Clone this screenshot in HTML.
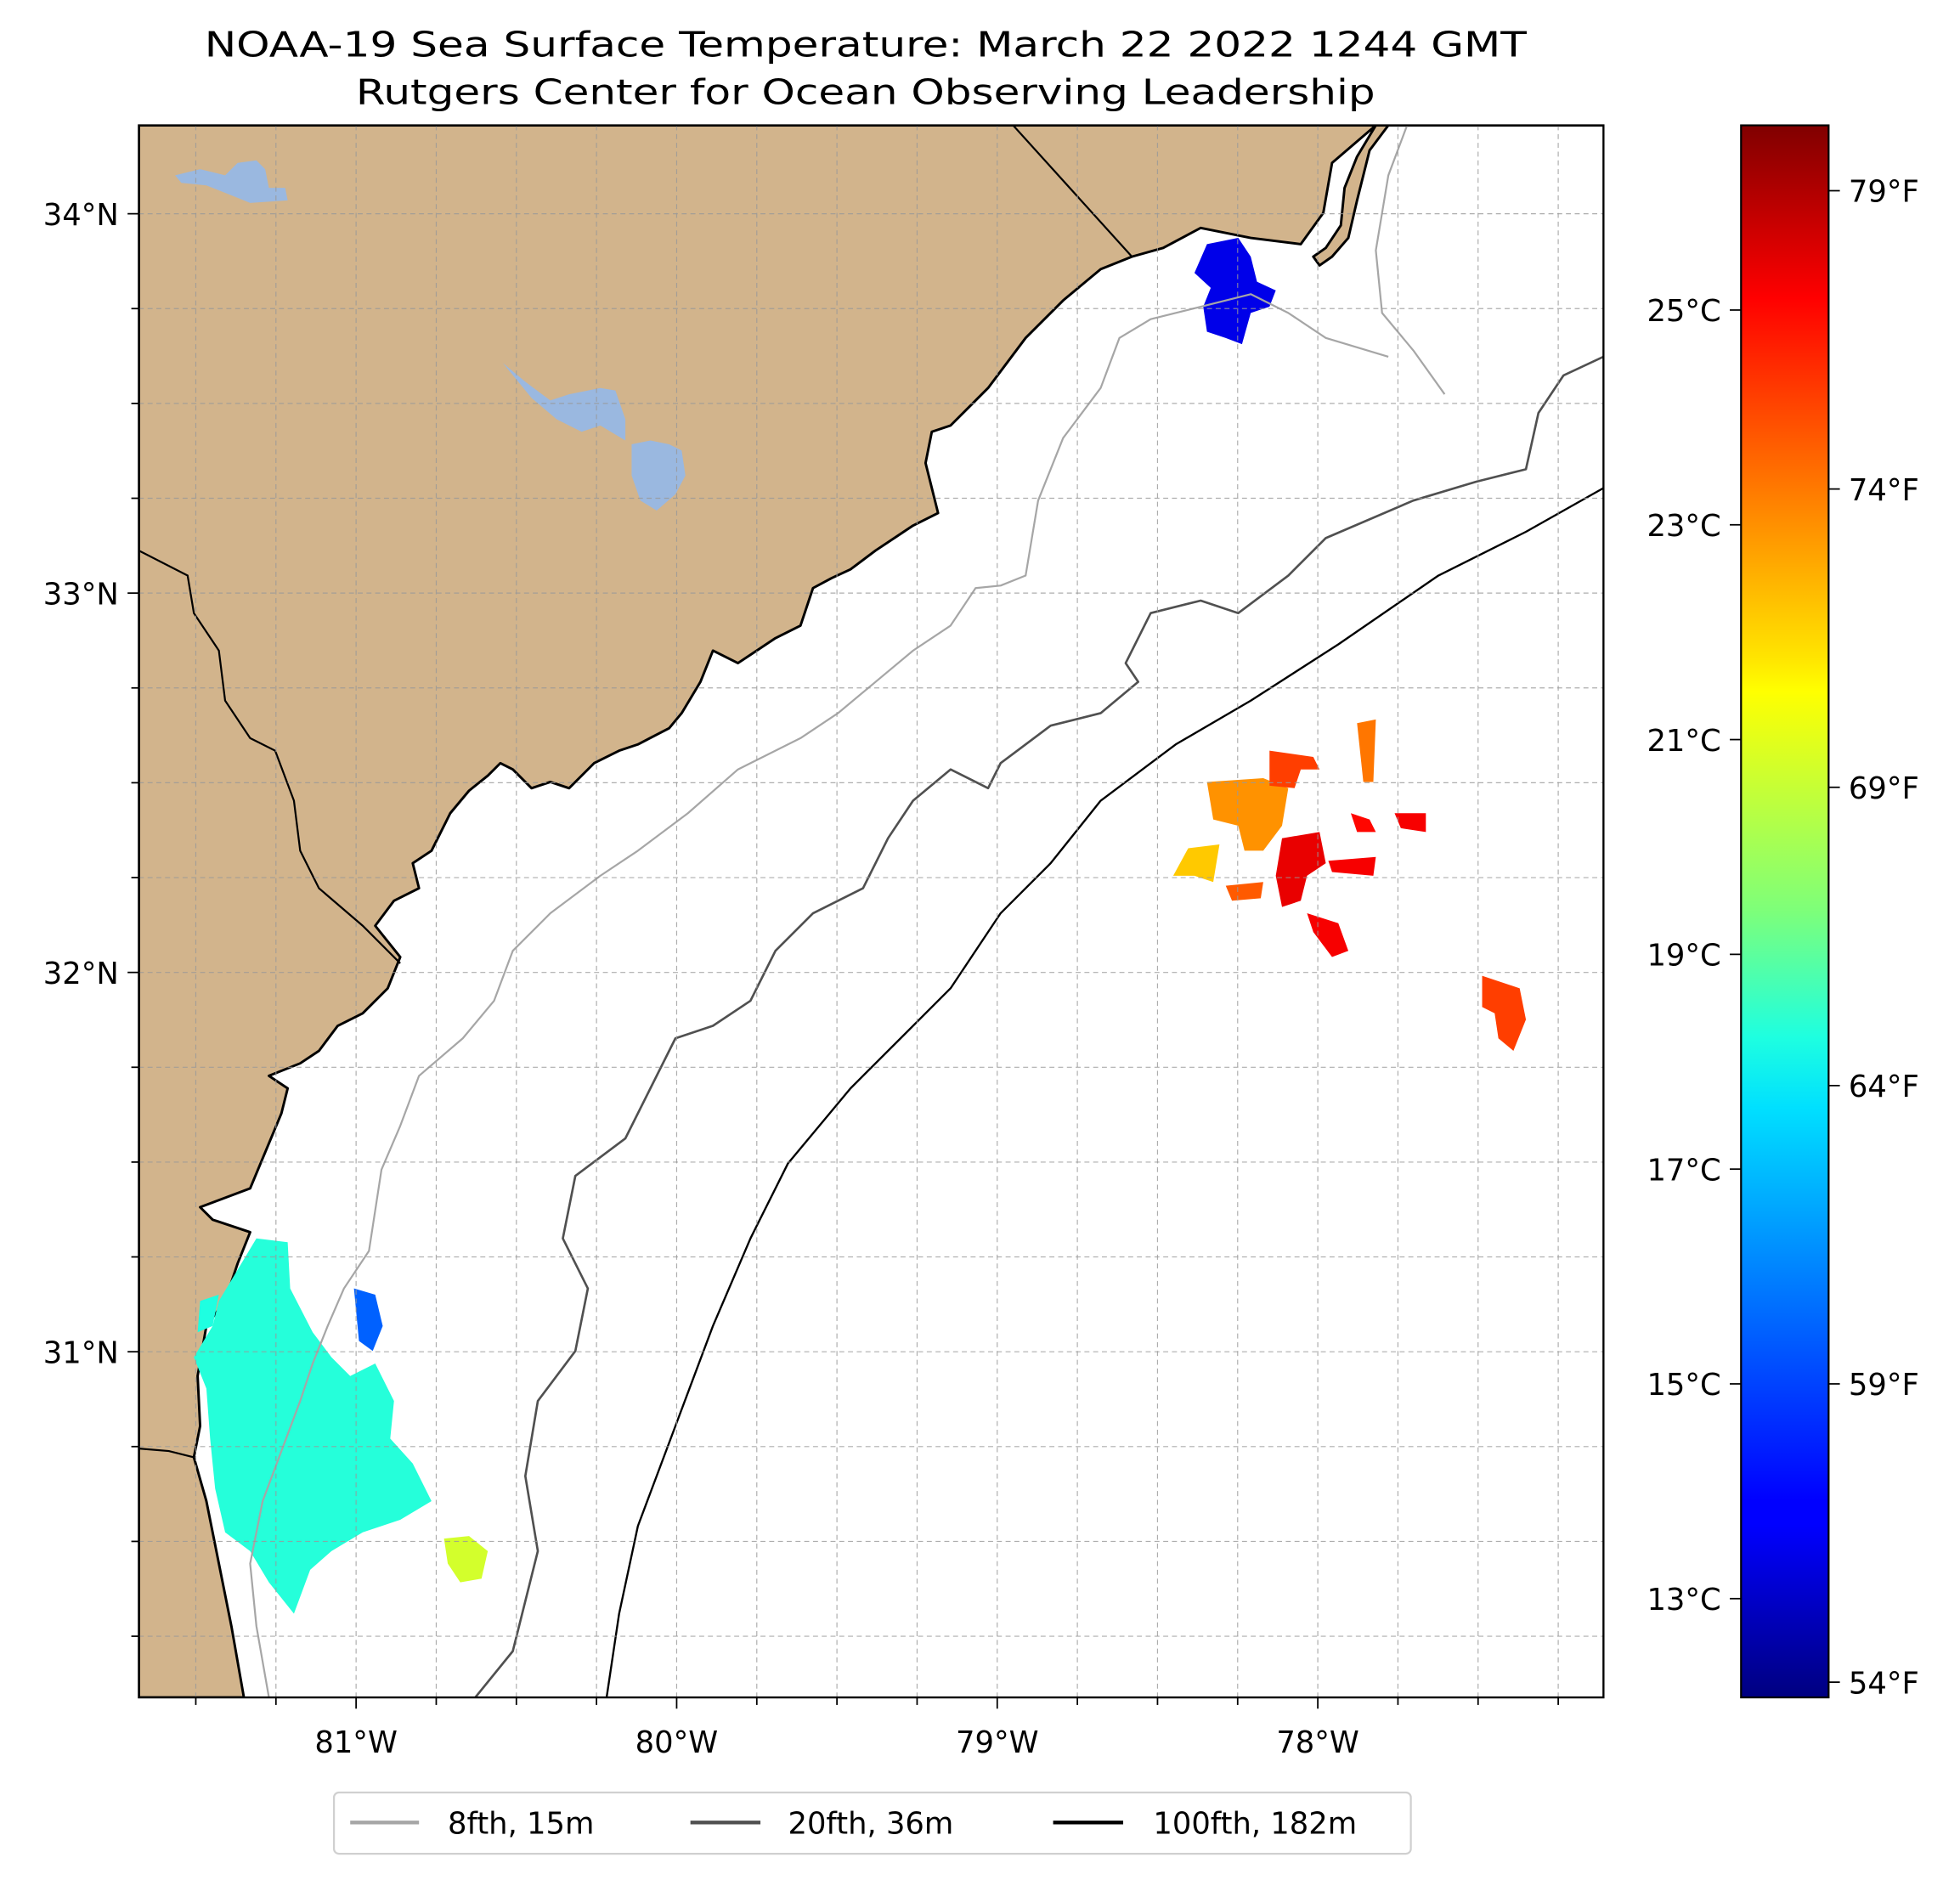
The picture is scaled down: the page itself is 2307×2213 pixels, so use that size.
<!DOCTYPE html>
<html><head><meta charset="utf-8">
<style>
html,body{margin:0;padding:0;background:#fff;}
svg{display:block;font-family:"DejaVu Sans","Liberation Sans",sans-serif;}
</style></head>
<body>
<svg id="chart" width="2307" height="2213" viewBox="0 0 1560 1496" xmlns="http://www.w3.org/2000/svg">
<defs>
<linearGradient id="jet" x1="0" y1="1" x2="0" y2="0">
<stop offset="0" stop-color="#000080"/><stop offset="0.11" stop-color="#0000ff"/><stop offset="0.125" stop-color="#0000ff"/>
<stop offset="0.375" stop-color="#00e0ff"/><stop offset="0.42" stop-color="#1effe0"/><stop offset="0.5" stop-color="#7dff7a"/>
<stop offset="0.64" stop-color="#ffff00"/><stop offset="0.66" stop-color="#ffe600"/><stop offset="0.89" stop-color="#ff0000"/>
<stop offset="1" stop-color="#800000"/></linearGradient>
<clipPath id="plotclip"><rect x="111" y="100" width="1171" height="1257"/></clipPath>
</defs>
<g transform="scale(0.9955)">
<text x="692" y="45" font-size="28" text-anchor="middle" textLength="1057" lengthAdjust="spacingAndGlyphs">NOAA-19 Sea Surface Temperature: March 22 2022 1244 GMT</text>
<text x="692" y="83" font-size="28" text-anchor="middle" textLength="815" lengthAdjust="spacingAndGlyphs">Rutgers Center for Ocean Observing Leadership</text>
<g id="map" clip-path="url(#plotclip)">
<rect x="111" y="100" width="1171" height="1257" fill="#fff"/>
<path fill="#d2b48c" stroke="#000" stroke-width="2" stroke-linejoin="round"
d="M111,100 L1100,100 L1085,125 L1075,150 L1072,180 L1060,198 L1050,205 L1055,212 L1065,205 L1078,190 L1085,160 L1095,120 L1110,100 L1282,100 L1282,100 L1100,100 L1065,130 L1058,170 L1040,195 L1000,190 L960,182 L930,198 L905,205 L880,215 L850,240 L820,270 L790,310 L760,340 L745,345 L740,370 L750,410 L730,420 L715,430 L700,440 L680,455 L665,462 L650,470 L640,500 L620,510 L605,520 L590,530 L570,520 L560,545 L545,570 L535,582 L510,595 L495,600 L475,610 L455,630 L440,625 L425,630 L410,615 L400,610 L390,620 L375,632 L360,650 L345,680 L330,690 L335,710 L315,720 L300,740 L320,765 L310,790 L290,810 L270,820 L255,840 L240,850 L215,860 L230,870 L225,890 L200,950 L160,965 L170,975 L200,985 L190,1010 L180,1040 L165,1060 L158,1100 L160,1140 L155,1165 L165,1200 L175,1250 L185,1300 L195,1357 L111,1357 Z"/>
<g fill="none" stroke="#000" stroke-width="1.5">
<path d="M810,100 L905,205"/>
<path d="M111,440 L150,460 L155,490 L175,520 L180,560 L200,590 L220,600 L235,640 L240,680 L255,710 L290,740 L320,770"/>
<path d="M111,1158 L135,1160 L155,1165"/>
</g>
<g fill="#9ab8e0">
<path d="M140,140 L160,135 L180,140 L190,130 L205,128 L212,135 L215,150 L228,150 L230,160 L200,162 L190,158 L165,148 L145,146 Z"/>
<path d="M402,290 L420,305 L440,320 L455,315 L480,310 L492,312 L500,335 L500,352 L480,340 L465,345 L445,335 L425,318 Z"/>
<path d="M505,355 L520,352 L535,355 L545,360 L548,380 L540,395 L525,408 L512,400 L505,380 Z"/>
</g>
<g id="sst"></g>
<g fill="none" stroke-linejoin="round">
<polyline stroke="#a6a6a6" stroke-width="1.5" points="1125,100 1110,140 1100,200 1105,250 1130,280 1155,315"/>
<polyline stroke="#a6a6a6" stroke-width="1.5" points="1110,285 1060,270 1030,250 1000,235 960,245 920,255 895,270 880,310 850,350 830,400 820,460 800,468 780,470 760,500 730,520 700,545 670,570 640,590 610,605 590,615 550,650 510,680 480,700 440,730 410,760 395,800 370,830 335,860 320,900 305,935 295,1000 275,1030 262,1060 250,1090 240,1120 225,1160 210,1200 200,1250 205,1300 215,1357"/>
<polyline stroke="#505050" stroke-width="1.8" points="1282,285 1250,300 1230,330 1220,375 1180,385 1130,400 1060,430 1030,460 990,490 960,480 920,490 900,530 910,545 880,570 840,580 800,610 790,630 760,615 730,640 710,670 690,710 650,730 620,760 600,800 570,820 540,830 520,870 500,910 460,940 450,990 470,1030 460,1080 430,1120 420,1180 430,1240 410,1320 380,1357"/>
<polyline stroke="#000" stroke-width="1.6" points="1282,390 1220,425 1150,460 1070,515 1000,560 940,595 880,640 840,690 800,730 760,790 720,830 680,870 630,930 600,990 570,1060 540,1140 510,1220 495,1290 485,1357"/>
</g>
<g id="grid"></g>
</g>
<rect x="111" y="100" width="1171" height="1257" fill="none" stroke="#000" stroke-width="1.6"/>
<g id="axes"></g>
<rect x="1392" y="100" width="70" height="1257" fill="url(#jet)" stroke="#000" stroke-width="1.5"/>
<g id="cbticks"></g>
<g>
<rect x="267" y="1433" width="861" height="49" rx="4" fill="#fff" stroke="#d0d0d0" stroke-width="1.5"/>
<line x1="280" y1="1457" x2="335" y2="1457" stroke="#a6a6a6" stroke-width="3"/>
<text x="358" y="1466" font-size="24">8fth, 15m</text>
<line x1="552" y1="1457" x2="608" y2="1457" stroke="#505050" stroke-width="3"/>
<text x="630" y="1466" font-size="24">20fth, 36m</text>
<line x1="842" y1="1457" x2="898" y2="1457" stroke="#000" stroke-width="3"/>
<text x="922" y="1466" font-size="24">100fth, 182m</text>
</g>
</g>
</svg>
<script>
const lonTicks=[-81,-80,-79,-78];
const latTicks=[34,33,32,31];
const lonLabels=["81°W","80°W","79°W","78°W"];
const latLabels=["34°N","33°N","32°N","31°N"];
const cTicks=[25,23,21,19,17,15,13];
const fTicks=[79,74,69,64,59,54];
const cMin=12.08,cMax=26.72;
// SST patch temperatures (°C)
const patchTemps=[13.6,18.1,15.3,18.0,20.6,22.8,22.0,24.0,25.2,25.0,24.8,25.0,25.0,24.0,23.6,23.2];
const patchShapes=[
"M965,195 L990,190 L1000,205 L1005,225 L1020,232 L1015,245 L1000,250 L993,275 L980,270 L965,265 L962,245 L968,230 L955,218 Z",
"M205,990 L230,993 L232,1030 L250,1065 L265,1085 L280,1100 L300,1090 L315,1120 L312,1150 L330,1170 L345,1200 L320,1215 L290,1225 L265,1240 L248,1255 L235,1290 L215,1265 L200,1240 L180,1225 L172,1190 L168,1150 L165,1110 L155,1085 L170,1060 L175,1040 L190,1015 Z",
"M283,1030 L300,1035 L306,1060 L298,1080 L287,1072 Z",
"M160,1040 L175,1035 L170,1060 L158,1065 Z",
"M355,1230 L375,1228 L390,1240 L385,1262 L368,1265 L358,1250 Z",
"M965,625 L1010,622 L1030,630 L1025,660 L1010,680 L995,680 L990,660 L970,655 Z",
"M950,678 L975,675 L970,705 L955,700 L938,700 Z",
"M1015,600 L1050,605 L1055,615 L1040,615 L1035,630 L1015,628 Z",
"M1025,670 L1055,665 L1060,690 L1045,700 L1040,720 L1025,725 L1020,700 Z",
"M1045,730 L1070,738 L1078,760 L1065,765 L1050,745 Z",
"M1080,650 L1095,655 L1100,665 L1085,665 Z",
"M1115,650 L1140,650 L1140,665 L1120,662 Z",
"M1062,688 L1100,685 L1098,700 L1065,697 Z",
"M1185,780 L1200,785 L1215,790 L1220,815 L1210,840 L1198,830 L1195,810 L1185,805 Z",
"M980,708 L1010,705 L1008,718 L985,720 Z",
"M1085,578 L1100,575 L1098,625 L1090,625 Z"];
const NS="http://www.w3.org/2000/svg";
const X0=111,X1=1282,Y0=100,Y1=1357;
function xs(lon){return 541+(lon+80)*256.3;}
function ys(lat){return 474-(lat-33)*303.3;}
function cy(c){return Y1-(c-cMin)/(cMax-cMin)*(Y1-Y0);}
function fy(f){return cy((f-32)*5/9);}
function jet(t){
 const cl=v=>Math.max(0,Math.min(1,v));
 const r=cl(Math.min(4*t-1.5,-4*t+4.5)),g=cl(Math.min(4*t-0.5,-4*t+3.5)),b=cl(Math.min(4*t+0.5,-4*t+2.5));
 return `rgb(${Math.round(r*255)},${Math.round(g*255)},${Math.round(b*255)})`;}
function mk(tag,attrs,parent,txt){const e=document.createElementNS(NS,tag);for(const k in attrs)e.setAttribute(k,attrs[k]);if(txt!==undefined)e.textContent=txt;parent.appendChild(e);return e;}
const sst=document.getElementById('sst');
patchShapes.forEach((d,i)=>{
 const p=mk('path',{d:d,fill:jet((patchTemps[i]-cMin)/(cMax-cMin))},sst);
 
 
});
const grid=document.getElementById('grid');
for(let lon=-81.75;lon<=-77;lon+=0.25){const x=xs(lon);if(x<X0||x>X1)continue;
 const l=mk('line',{x1:x,y1:Y0,x2:x,y2:Y1,stroke:'#999','stroke-width':0.8,'stroke-dasharray':'4,3','stroke-opacity':0.8},grid);
 
 }
for(let lat=30.25;lat<=34.25;lat+=0.25){const y=ys(lat);if(y<Y0||y>Y1)continue;
 const l=mk('line',{x1:X0,y1:y,x2:X1,y2:y,stroke:'#999','stroke-width':0.8,'stroke-dasharray':'4,3','stroke-opacity':0.8},grid);
 
 }
const axes=document.getElementById('axes');
for(let lon=-81.75;lon<=-77;lon+=0.25){const x=xs(lon);if(x<X0||x>X1)continue;
 const major=Math.abs(lon-Math.round(lon))<1e-6;
 const t=mk('line',{x1:x,y1:Y1,x2:x,y2:Y1+(major?9:6),stroke:'#000','stroke-width':1.2},axes);
 
 }
for(let lat=30.25;lat<=34.25;lat+=0.25){const y=ys(lat);if(y<Y0||y>Y1)continue;
 const major=Math.abs(lat-Math.round(lat))<1e-6;
 const t=mk('line',{x1:X0,y1:y,x2:X0-(major?9:6),y2:y,stroke:'#000','stroke-width':1.2},axes);
 
 }
lonTicks.forEach((v,i)=>{const t=mk('text',{x:xs(v),y:Y1+44,'font-size':24,'text-anchor':'middle'},axes,lonLabels[i]);
 
 });
latTicks.forEach((v,i)=>{const t=mk('text',{x:X0-16,y:ys(v)+9,'font-size':24,'text-anchor':'end'},axes,latLabels[i]);
 
 });
const cb=document.getElementById('cbticks');
cTicks.forEach(c=>{const y=cy(c);
 mk('line',{x1:1392,y1:y,x2:1383,y2:y,stroke:'#000','stroke-width':1.2},cb);
 const t=mk('text',{x:1376,y:y+9,'font-size':24,'text-anchor':'end'},cb,c+'°C');
 
 });
fTicks.forEach(f=>{const y=fy(f);
 mk('line',{x1:1462,y1:y,x2:1471,y2:y,stroke:'#000','stroke-width':1.2},cb);
 const t=mk('text',{x:1478,y:y+9,'font-size':24,'text-anchor':'start'},cb,f+'°F');
 
 });
</script>
</body></html>
